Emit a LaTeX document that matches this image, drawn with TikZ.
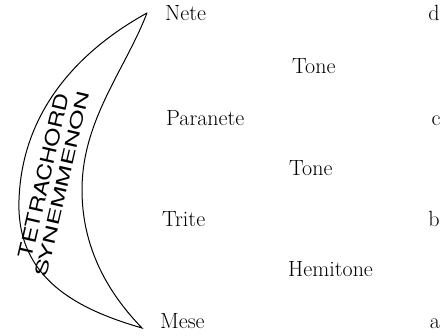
\documentclass[tikz,border=0pt]{standalone}
\usepackage{fontspec}
\usepackage{graphicx}
\setsansfont{TeX Gyre Heros}
\begin{document}
\begin{tikzpicture}[x=1pt,y=-1pt,
  lbl/.style={font=\fontsize{22}{26}\selectfont, inner sep=0pt, anchor=base west},
  crescent/.style={draw, line width=1pt, line join=miter, line cap=round},
  arctext/.style={inner sep=0pt, font=\sffamily}]
\useasboundingbox (0,0) rectangle (442,336);
\coordinate (top) at (147,13);
\coordinate (bot) at (142,328);
\draw[crescent] (top) .. controls (80,50) and (22,110) .. (19,200)
  .. controls (16,280) and (80,310) .. (bot)
  .. controls (110,295) and (82,250) .. (82,190)
  .. controls (82,120) and (125,70) .. (top);
\node[arctext, rotate=77] (tetra) at (44,176) {\resizebox{168pt}{14.5pt}{TETRACHORD}};
\node[arctext, rotate=77] (syn) at (62,184) {\resizebox{190pt}{12.5pt}{SYNEMMENON}};
\node[lbl] (nete) at (165,21) {Nete};
\node[lbl] (paranete) at (166,126) {Paranete};
\node[lbl] (trite) at (162,227) {Trite};
\node[lbl] (mese) at (160,329) {Mese};
\node[lbl] (tone1) at (292,74) {Tone};
\node[lbl] (tone2) at (289,176) {Tone};
\node[lbl] (hemi) at (288,277) {Hemitone};
\node[lbl, anchor=base] (d) at (434,21) {d};
\node[lbl, anchor=base] (c) at (436,126) {c};
\node[lbl, anchor=base] (b) at (434,227) {b};
\node[lbl, anchor=base] (a) at (435,329) {a};
\end{tikzpicture}
\end{document}
